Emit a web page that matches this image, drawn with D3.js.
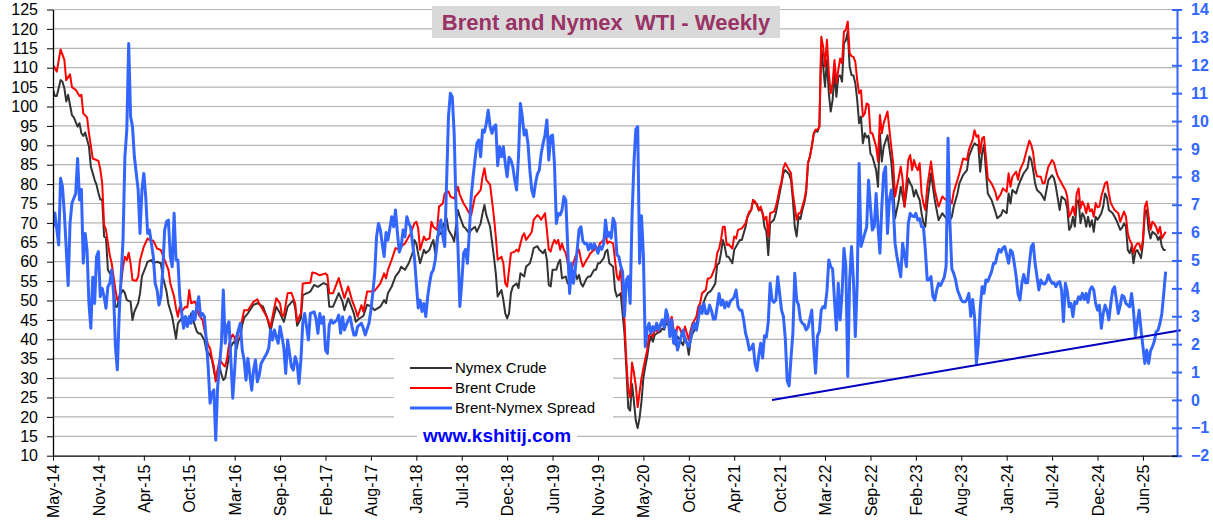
<!DOCTYPE html>
<html><head><meta charset="utf-8">
<script src="https://cdn.jsdelivr.net/npm/d3@7"></script>
<style>
body{margin:0;background:#fff;}
text{font-family:"Liberation Sans",Arial,sans-serif;}
</style></head>
<body><svg id="c" width="1213" height="525"></svg>
<script>
const startDate = "2014-05-23";
const totalWeeks = 594;
const tickStepWeeks = 24;
const tickLabels = ["May-14","Nov-14","Apr-15","Oct-15","Mar-16","Sep-16","Feb-17","Aug-17","Jan-18","Jul-18","Dec-18","Jun-19","Nov-19","May-20","Oct-20","Apr-21","Oct-21","Mar-22","Sep-22","Feb-23","Aug-23","Jan-24","Jul-24","Dec-24","Jun-25"];
const leftTicks = [10,15,20,25,30,35,40,45,50,55,60,65,70,75,80,85,90,95,100,105,110,115,120,125];
const rightTicks = [-2,-1,0,1,2,3,4,5,6,7,8,9,10,11,12,13,14];
const seriesNames = ["Nymex Crude","Brent Crude","Brent-Nymex Spread"];

// [week since startDate, value]
const nymex = [[0,104.3],[1,102.7],[2,102.7],[4,106.8],[5,106.4],[6,104.7],[7,101.3],[8,103],[10,97.8],[11,97.2],[13,94.8],[14,95.7],[15,93.1],[16,92.4],[17,93.3],[19,89.7],[20,84.5],[22,81.1],[23,79.8],[24,77.7],[25,76],[26,76],[27,66.5],[28,66.1],[29,57.9],[31,56.2],[32,53.2],[33,48.4],[34,48.4],[35,51],[37,52.7],[38,51.9],[39,50.1],[41,49.7],[42,45],[43,47.1],[45,49.3],[46,51.9],[47,56.2],[49,58.7],[50,60],[52,60.4],[53,59.6],[55,60],[57,59.6],[58,56.2],[60,52.3],[61,49.1],[63,45.8],[65,40.2],[66,44.1],[68,45.4],[69,43.7],[70,45.8],[72,44.1],[73,46.7],[74,45],[76,42],[77,41.5],[78,41.5],[80,39.8],[81,37.2],[83,35.9],[84,34.7],[85,32.1],[86,29.5],[87,32],[88,33],[89,31],[90,29.5],[91,30],[92,32.8],[93,35.5],[94,38],[95,39],[96,39.5],[97,37.5],[98,39.7],[99,40.5],[100,43.7],[101,45.5],[103,46.7],[106,48.9],[108,49.3],[111,48.4],[113,45.8],[115,42],[116,44.5],[118,48.4],[120,46.7],[122,44.5],[124,48.4],[127,50.1],[128,48],[129,43.5],[131,45.4],[132,51.4],[136,52.3],[138,54],[140,53.5],[143,54.5],[145,54],[146,48.4],[148,48.4],[151,51.9],[153,49.7],[154,47.5],[156,50.6],[159,46.7],[160,44.5],[162,45.4],[164,46],[166,48.9],[168,48.5],[170,47.5],[173,48.4],[175,50.1],[176,49.3],[177,51.9],[179,53.6],[181,56.2],[183,57.5],[184,58.7],[185,58.3],[186,57.9],[188,59.6],[190,62.2],[191,65.6],[192,64.7],[193,62],[194,59.6],[195,61.3],[196,63.1],[197,62.2],[199,63.1],[200,64.5],[201,65.6],[202,62.2],[203,66.5],[204,67],[205,67.3],[206,69],[208,71.2],[209,68.2],[211,66.5],[212,65.2],[214,73.3],[215,71.6],[217,69],[218,68.6],[220,67.3],[221,68.2],[223,69],[224,67.7],[226,69.9],[227,72.5],[228,74.6],[229,72],[230,70.5],[231,69],[233,61.3],[234,57],[235,51],[237,52.7],[238,50.1],[239,46.7],[240,45.4],[241,46.7],[242,51.9],[243,53.6],[245,54.4],[246,53.2],[247,57],[249,56.2],[250,58.7],[252,59.6],[253,61.3],[254,63.5],[256,64],[257,63.1],[259,62.2],[260,63.1],[261,60.5],[262,54],[263,53.6],[264,57.9],[266,57.9],[267,59.6],[268,60.5],[269,55.7],[271,56.2],[272,54.4],[273,55],[274,55.3],[276,57],[277,55.5],[278,56.6],[279,54.4],[280,53.6],[282,55.7],[283,56.2],[284,56.2],[286,57.9],[287,57.9],[288,59.6],[289,59.6],[291,60.9],[292,62.6],[293,63.1],[294,59.6],[296,58.7],[297,52.7],[298,51],[300,51.9],[301,46.7],[302,41.5],[303,32.5],[304,22.3],[305,21.6],[306,28.5],[307,24],[308,19],[309,17.1],[310,19.8],[311,24],[312,30],[313,33],[314,35.5],[315,39],[316,40.7],[317,39.4],[318,41.1],[319,41.5],[321,42],[322,42.8],[323,42.5],[324,44.1],[326,43.5],[327,44.1],[328,40.7],[329,38.5],[330,40.7],[331,40],[333,38.5],[334,40.7],[335,39],[336,36],[337,39.8],[338,41.5],[340,43.3],[341,46.7],[342,48.4],[343,48.4],[345,51],[346,51.9],[347,52.2],[348,52.7],[350,54.4],[351,59.2],[352,59.6],[353,62.2],[354,65.6],[355,63.9],[356,61.3],[357,61.3],[359,59.6],[360,63.1],[361,63.9],[363,65.6],[364,65.6],[365,67.3],[366,69],[367,71.6],[368,72.5],[369,73.3],[370,75.9],[371,75.1],[372,74.9],[373,73.2],[374,73.5],[375,72.5],[376,69],[377,67.8],[378,61.7],[379,69.9],[381,70.8],[382,72.5],[383,75.1],[384,77.6],[385,80.2],[386,82.8],[387,83.6],[389,82.5],[390,81.1],[391,75.9],[392,69],[393,66.5],[394,71.6],[395,71],[396,73.3],[397,75.1],[398,77.6],[399,85.4],[400,87.1],[401,89.7],[402,92.7],[403,94],[404,93.5],[405,94.8],[406,115.4],[407,110.3],[408,105.1],[409,112],[410,103.4],[411,98.7],[412,101.7],[413,108.6],[414,102.5],[415,107.7],[416,108],[417,106.4],[418,116.3],[419,117],[420,119.3],[421,110.3],[422,108.1],[423,108],[424,106],[425,101.7],[426,95.7],[427,97.4],[428,90.5],[429,93.1],[430,92],[431,92.5],[432,87.9],[433,87.1],[434,85.4],[435,83.6],[436,79.3],[437,93.1],[438,85.8],[439,89.6],[441,92.6],[443,85.8],[444,79.3],[445,71.2],[447,75.9],[448,79.3],[449,77],[450,74.2],[452,81.5],[453,80.2],[454,79.3],[455,76.8],[456,78.5],[457,77],[458,75.9],[459,72.5],[460,70],[461,69],[462,75],[464,82.8],[465,79.3],[466,75.9],[468,70.7],[470,72.5],[471,71.8],[472,71.2],[473,69.9],[475,71.6],[476,74.2],[478,77.6],[479,80.2],[481,82.4],[483,83.6],[484,87.1],[486,89.6],[487,90.5],[488,90.1],[489,90.1],[490,83.2],[491,87.9],[492,90.1],[493,83.6],[494,77.6],[496,75.9],[498,72.9],[499,71.2],[501,72],[502,73.3],[504,72.5],[505,77.6],[506,75],[507,78.5],[509,77.6],[510,79.3],[511,80.6],[513,82.8],[515,84.1],[516,87.1],[517,86.2],[518,83.6],[519,80.2],[520,78.5],[522,77.6],[523,76.8],[524,75.9],[526,81],[528,82.3],[529,81.5],[530,79.3],[532,73.3],[533,76.8],[535,75.9],[536,73.8],[537,68.2],[538,69],[539,71.6],[540,69],[541,75.1],[542,75.9],[543,69.9],[544,72.5],[545,71.6],[546,69],[547,71.6],[548,69],[549,70.7],[550,67.7],[551,71.6],[552,70.8],[553,71.6],[554,72.5],[555,74.2],[556,77.6],[557,76.5],[558,73.3],[560,72.5],[561,71.6],[562,70.7],[564,68.2],[565,68.8],[566,69.9],[567,69],[568,63],[569,62.2],[570,63.9],[571,59.6],[572,62.5],[573,63],[574,62],[575,60.9],[576,64.7],[577,72.5],[578,73.3],[579,68.2],[580,66],[581,67.7],[582,67.3],[583,66.9],[584,65.6],[585,66.5],[586,63.9],[587,63],[588,63]];

const brent = [[0,110.7],[2,109],[4,114.7],[6,112],[7,106.8],[9,108.3],[10,105],[12,104.3],[14,102.7],[15,103],[16,98.2],[18,97.2],[19,93.1],[21,86.6],[24,86],[25,83.8],[26,80.2],[27,69.5],[28,68.2],[30,61.7],[31,59.6],[33,52.7],[34,50.1],[35,50],[36,54.4],[37,58.7],[38,61.3],[39,60.4],[40,62.3],[41,59.6],[42,55.3],[44,55.1],[45,56.1],[46,60.4],[48,63.9],[50,66],[51,65.6],[53,65.4],[55,63.4],[57,63],[59,60.4],[61,57.9],[62,54.4],[64,51],[65,48],[66,45.8],[67,48.4],[68,47.1],[70,48.4],[71,48.2],[72,52.7],[73,49.3],[75,49.7],[76,48.4],[77,46.3],[79,45],[80,42.4],[82,38.5],[83,37.7],[84,35.1],[85,33],[86,29.1],[87,32.2],[88,34.7],[89,34.1],[90,33.4],[91,33],[92,35.1],[93,38.7],[94,40.4],[95,41.2],[96,40.4],[97,38.7],[98,41.9],[99,43.1],[100,45.1],[101,47.5],[103,47.5],[106,49.7],[108,50.3],[109,49.2],[111,47.5],[113,45.8],[115,43.2],[116,45.8],[118,50.6],[120,49.2],[121,46.2],[122,46],[124,51.9],[126,52],[128,49.2],[129,44.5],[131,46.7],[132,54.4],[136,54.6],[137,57.2],[139,57],[141,56.5],[144,57],[145,56.5],[146,51.9],[148,51.9],[150,54.5],[151,55.8],[153,52.3],[154,50.6],[156,53.6],[158,50.1],[160,47.5],[161,45.8],[163,48.8],[164,47.1],[166,52.3],[168,52.3],[170,52.5],[173,54.4],[175,57],[176,55.7],[177,57.9],[179,60.5],[181,63.5],[183,63.1],[184,63.9],[186,64.7],[187,65.6],[189,67.3],[190,68.6],[191,69.9],[192,70.3],[193,68.6],[194,63.1],[195,64.7],[196,66.5],[197,65.6],[199,66],[200,70.3],[201,69],[203,68.2],[204,74.2],[206,75],[207,77.6],[209,78.1],[210,76.8],[212,76.3],[214,79.3],[215,77.2],[217,75],[218,74.2],[220,72.5],[221,72],[223,76.8],[224,77.2],[226,78.5],[227,81.9],[228,84.1],[229,81.1],[231,79.8],[233,71.6],[234,66.5],[235,60.5],[237,61.3],[238,59.6],[239,54.4],[240,53.6],[241,57.9],[242,62.2],[244,62.6],[245,63.1],[246,62.6],[248,66.5],[249,67.3],[250,65.6],[252,66.9],[253,67.7],[254,70.8],[256,72],[257,71.6],[258,70.8],[260,72.5],[261,68.2],[262,63.1],[263,62.6],[264,64.5],[265,65.6],[266,64.7],[267,65.6],[268,63.1],[269,64.7],[270,63.1],[271,62.2],[272,59.6],[273,56.2],[274,57.9],[276,61.3],[277,62.2],[278,63.1],[279,60.5],[280,58.7],[282,60.5],[283,61.3],[284,62.2],[286,63.1],[287,63.9],[288,63.1],[289,64.7],[291,65.6],[292,66.9],[293,64.7],[294,65.2],[296,64.7],[297,60.5],[298,56.2],[299,55.3],[300,58],[301,51],[302,45],[303,34.5],[304,27],[305,25],[306,34],[307,31.5],[308,28],[309,22.5],[310,26.4],[311,30],[312,32.5],[313,35],[314,37.2],[315,41],[316,41.5],[317,40.7],[318,42.4],[320,42],[321,43.3],[322,44.1],[323,44.1],[324,45],[326,44.1],[327,45.8],[328,42.4],[329,40.7],[330,43.3],[331,43],[333,40.7],[334,43.3],[335,41.5],[336,39.8],[337,42.4],[338,44.1],[340,45.8],[341,48.4],[342,49.3],[343,51.9],[345,52.7],[346,55.7],[347,55.7],[348,56.2],[350,58.7],[351,62.2],[352,63.4],[353,65.6],[354,69],[355,69],[356,64.3],[357,64.5],[359,63.4],[360,66.5],[361,66],[362,68.2],[364,68.6],[366,69.9],[367,71.6],[368,72.9],[369,73.3],[370,75.9],[371,75.5],[372,74.6],[373,73.3],[374,74.2],[375,72.5],[376,70.8],[377,71.6],[378,66.5],[379,72.5],[381,72.9],[382,74.2],[383,76.3],[384,78.9],[385,80.6],[386,84.1],[387,85.4],[389,83.6],[390,82.8],[391,77.6],[392,74.2],[393,70.8],[394,72.5],[395,72.5],[396,74.2],[397,75.9],[398,78.5],[399,85.4],[400,87.1],[401,89.7],[402,93.1],[403,94],[404,94],[405,94.8],[406,118],[407,115.4],[408,110.3],[409,117.2],[410,108.6],[411,103.4],[412,106],[413,112],[414,106],[415,109.4],[416,112.4],[417,111.1],[418,119.3],[419,119.7],[420,121.9],[421,113.7],[422,113],[423,112.8],[424,111.5],[425,106.8],[426,103.4],[427,104.2],[428,97.4],[429,98.2],[430,100.8],[431,100.5],[432,93.1],[433,93.1],[434,91.4],[435,89.7],[436,85.8],[437,97.8],[438,93.1],[439,95.7],[441,98.7],[443,89.6],[444,85.4],[445,76.8],[447,81.9],[448,84.5],[449,81.1],[450,74.2],[452,86.2],[453,87.5],[454,83.6],[455,86.2],[456,84.5],[457,83.6],[458,85.4],[459,77.6],[460,75],[461,73.3],[462,79.3],[464,85.8],[465,81.9],[466,78.5],[468,74.2],[470,76.8],[471,76.3],[472,75.9],[473,76.8],[475,75],[476,78],[478,81.1],[479,82.8],[481,86.6],[483,86.2],[484,88.8],[486,91.4],[487,93.9],[488,92.2],[489,92.6],[490,87.9],[491,91.8],[492,92.2],[493,87.1],[494,81.5],[496,80.2],[498,78],[499,75.9],[501,77.6],[502,78.9],[504,78],[505,82.8],[506,79.3],[507,81.9],[509,83.2],[510,81.1],[511,83.6],[513,85.8],[515,89.5],[516,91.2],[517,90.1],[518,88],[519,84],[520,82],[522,81.9],[523,80.2],[524,80.2],[526,84.5],[528,86.2],[529,85.5],[530,83.6],[531,82],[533,80.2],[534,79.3],[535,78.5],[536,76.8],[537,71.6],[538,72.5],[539,74.2],[540,72],[541,77.6],[542,78.9],[543,73.8],[544,75.5],[545,74.5],[546,72.5],[547,75],[548,73],[549,73.5],[550,71.6],[551,75.1],[552,74],[553,74.2],[554,76.8],[556,80.2],[557,80.6],[558,77.6],[559,75.1],[560,74.2],[561,73.3],[563,72.5],[564,70.3],[565,71.6],[566,72.9],[567,71.6],[568,67.3],[569,65.6],[570,64.7],[571,62.2],[572,63.9],[573,64.7],[574,64.7],[575,63],[576,65.6],[577,74.2],[578,75.5],[579,71.6],[580,68.2],[581,70.3],[582,69.8],[583,68.9],[584,67.3],[585,69],[586,66],[587,66.9],[588,67.7]];

const spread = [[0,6.2],[1,6.7],[3,5.56],[4,7.95],[5,7.65],[6,6.7],[8,4.1],[9,6.33],[10,7.05],[12,7.4],[13,8.66],[14,7.17],[15,7.55],[16,4.9],[17,5.97],[18,5.37],[19,3.46],[20,2.57],[21,4.4],[22,3.46],[23,5.14],[24,5.32],[25,3.7],[26,4.0],[27,3.7],[28,3.29],[29,4.06],[30,4.18],[31,4.66],[32,3.82],[33,1.91],[34,1.08],[35,3.1],[37,5.73],[38,8.72],[39,9.68],[40,12.78],[41,10.16],[42,9.8],[43,8.72],[45,7.53],[46,5.97],[47,7.53],[48,8.12],[49,7.29],[50,5.97],[51,6.09],[53,5.14],[54,4.18],[55,3.94],[56,3.4],[57,3.7],[58,4.66],[59,6.09],[60,6.39],[61,6.45],[62,5.14],[63,4.78],[64,6.69],[65,5.02],[66,5.02],[67,3.7],[69,2.57],[70,2.99],[71,2.63],[72,2.99],[73,2.75],[74,3.17],[75,2.87],[76,3.35],[77,3.7],[78,2.99],[79,3.1],[80,2.99],[81,2.15],[82,1.19],[83,-0.12],[84,0.24],[85,0.36],[86,-1.44],[87,0.47],[89,2.03],[90,3.94],[91,2.03],[92,2.63],[93,2.8],[94,1.43],[95,0.06],[96,1.07],[97,2.27],[99,2.75],[100,1.79],[101,1.43],[102,0.71],[103,1.49],[105,0.35],[106,1.07],[107,1.43],[108,0.65],[109,0.89],[110,1.31],[111,1.43],[113,1.67],[114,1.85],[115,2.51],[116,2.15],[117,2.51],[119,2.03],[120,2.63],[121,2.27],[122,1.85],[123,0.95],[124,2.15],[126,1.19],[127,1.07],[128,1.55],[129,1.31],[130,0.59],[131,1.43],[132,2.75],[133,3.1],[135,2.15],[136,3.1],[138,3.16],[139,2.92],[140,2.39],[141,3.1],[142,2.75],[143,2.98],[144,1.79],[145,1.67],[146,2.69],[147,2.86],[148,2.75],[150,2.86],[151,3.04],[152,2.39],[153,2.98],[154,2.51],[156,2.86],[157,2.98],[158,2.63],[159,2.33],[160,2.33],[161,2.63],[163,2.75],[164,2.57],[165,2.33],[167,2.75],[168,3.22],[169,3.82],[170,4.54],[171,5.85],[172,6.33],[173,6.1],[174,5.6],[175,5.14],[176,6.0],[177,5.73],[178,6.15],[179,6.57],[180,6.21],[181,6.81],[182,6.0],[183,5.3],[184,5.5],[185,6.09],[186,5.85],[187,6.57],[188,6.33],[189,6.2],[190,5.62],[191,5.1],[192,4.2],[193,3.3],[194,3.58],[195,3.17],[196,3.46],[197,2.99],[198,3.7],[199,4.18],[200,4.54],[201,4.66],[202,5.02],[203,5.62],[204,6.21],[205,6.45],[206,5.85],[207,5.5],[208,7.8],[209,10.16],[210,11],[211,10.87],[212,9.56],[213,6.9],[214,5.5],[215,3.35],[216,4.18],[217,5.26],[218,5.4],[219,4.9],[220,5.97],[221,7.29],[222,8.0],[223,8.6],[224,9.2],[225,9.32],[226,8.72],[227,9.68],[228,9.6],[229,9.92],[230,10.39],[231,9.8],[232,9.56],[233,9.8],[234,9.86],[235,8.4],[236,9.08],[237,8.72],[238,9.08],[239,8.48],[240,8],[241,8.7],[242,8.6],[243,8.36],[244,7.89],[245,7.53],[246,8.72],[247,10.63],[248,10.16],[249,9.5],[250,9.68],[251,9.2],[252,8.24],[253,7.53],[254,7.29],[255,7.77],[256,8.1],[257,8.24],[258,8.84],[259,9.2],[260,9.5],[261,10.04],[262,8.6],[263,9.44],[264,9.5],[265,8.48],[266,6.33],[267,6.69],[268,6.63],[269,6.81],[270,7.29],[271,7.17],[272,5.5],[273,3.82],[274,4.9],[275,4.18],[276,4.66],[277,5.38],[278,6.09],[279,6.21],[280,5.7],[281,5.6],[282,5.62],[283,5.38],[284,5.6],[285,5.4],[286,5.6],[287,5.45],[288,5.26],[289,5.5],[290,5.4],[291,5.6],[292,6.45],[293,5.85],[294,6.0],[295,5.8],[296,6.51],[297,6.33],[298,5.2],[299,5.14],[300,4.8],[301,4.6],[302,3.0],[303,4.3],[304,4.42],[305,3.46],[306,6.57],[307,8.48],[308,9.7],[309,9.8],[310,4.9],[311,6.6],[312,5.2],[313,1.91],[314,2.51],[315,2.75],[316,2.39],[317,2.63],[318,2.5],[319,2.75],[320,2.5],[321,2.7],[322,2.87],[323,2.6],[324,3.23],[325,2.99],[326,2.27],[327,2.87],[328,2.03],[329,2.5],[330,1.79],[331,2.03],[332,2.3],[333,2.51],[334,2.15],[335,2.03],[336,1.91],[337,2.2],[338,2.6],[339,2.75],[340,2.5],[341,2.87],[342,3.35],[343,3.1],[344,3.46],[345,3.1],[346,3.1],[347,3.4],[348,3.2],[349,2.9],[350,2.9],[351,3.35],[352,3.82],[353,3.4],[354,3.58],[355,3.3],[356,3.5],[357,3.35],[358,3.55],[359,3.6],[360,3.7],[361,3.94],[362,3.35],[363,3.22],[364,3.22],[365,2.87],[366,2.39],[367,2.15],[368,1.79],[369,1.85],[370,2.0],[371,1.3],[372,1.05],[373,1.6],[374,2.03],[375,1.5],[376,2.3],[377,2.25],[378,2.8],[379,4.18],[380,3.58],[381,3.5],[382,3.58],[383,4.42],[384,3.82],[385,3.22],[386,2.99],[387,2.2],[388,0.7],[389,0.5],[390,1.49],[391,2.39],[392,4.54],[393,3.58],[394,3.4],[395,2.87],[396,2.75],[397,2.7],[398,2.51],[399,2.6],[400,2.9],[401,3.22],[402,1.91],[403,0.96],[404,2.3],[405,2.45],[406,3.22],[407,3.35],[408,3.3],[409,3.9],[410,5.02],[411,4.78],[412,4.7],[413,3.58],[414,2.51],[415,4.18],[416,2.87],[417,3.82],[418,5.43],[419,4.8],[420,0.84],[421,4.3],[422,5.5],[423,4.3],[424,2.27],[425,4.18],[426,8.48],[427,5.5],[428,5.73],[429,5.97],[430,6.2],[431,7.88],[432,6.93],[433,6.09],[434,6.21],[435,7.4],[436,6.2],[437,5.26],[438,6.93],[439,8.12],[440,8.36],[441,5.97],[442,7.17],[443,7.53],[444,7.0],[445,5.62],[446,5.14],[447,4.78],[448,4.42],[449,5.62],[450,5.2],[451,4.78],[452,6.33],[453,6.69],[454,6.6],[455,6.57],[456,6.69],[457,6.45],[458,6.5],[459,6.21],[460,6.2],[461,5.38],[462,4.3],[463,4.3],[464,4.42],[465,3.7],[466,3.58],[467,3.94],[468,4.18],[469,4.1],[470,4.24],[471,4.4],[472,4.8],[473,9.38],[474,6.33],[475,4.7],[476,4.54],[477,4.3],[478,3.94],[479,3.76],[480,3.58],[481,3.52],[482,3.52],[483,3.6],[484,3.82],[485,3.0],[486,3.6],[487,2.98],[488,1.31],[489,2.03],[490,3.3],[491,4.06],[492,3.82],[493,4.3],[494,4.25],[495,4.42],[496,4.6],[497,4.9],[498,4.9],[499,5.2],[500,5.4],[501,5.3],[502,5.45],[503,5.5],[504,5.2],[505,4.9],[506,5.38],[507,5.3],[508,4.9],[509,4.42],[510,3.8],[511,3.58],[512,4.18],[513,4.5],[514,4.2],[515,4.2],[516,4.9],[517,5.5],[518,5.6],[519,4.9],[520,4.42],[521,3.94],[522,4.3],[523,4.18],[524,4.15],[525,4.24],[526,4.48],[527,4.3],[528,4.18],[529,4.2],[530,4.06],[531,4.2],[532,4.24],[533,3.94],[534,2.81],[535,4.18],[536,3.9],[537,3.34],[538,3.46],[539,2.99],[540,3.52],[541,3.46],[542,3.7],[543,3.6],[544,3.82],[545,3.6],[546,3.82],[547,3.5],[548,3.94],[549,4.06],[550,3.94],[551,3.46],[552,3.22],[553,3.4],[554,2.57],[555,3.1],[556,3.4],[557,3.2],[558,2.87],[559,3.45],[560,3.94],[561,4.06],[562,3.58],[563,3.1],[564,3.4],[565,3.75],[566,3.7],[567,3.46],[568,3.4],[569,3.34],[570,3.82],[571,3.2],[572,2.3],[573,2.75],[574,3.22],[575,2.5],[576,1.91],[577,1.31],[578,1.79],[579,1.31],[580,1.75],[581,1.91],[582,2.1],[583,2.45],[584,2.5],[585,2.75],[586,3.1],[587,3.82],[588,4.6]];

const trendWeeks = [380, 596];
const trendValues = [0, 2.5];

const svg = d3.select("#c");
const W = 1213, H = 525;
const m = {left: 53, right: 1177, top: 9.5, bottom: 455.7};
const t0 = d3.timeParse("%Y-%m-%d")(startDate);
const wk = w => d3.timeDay.offset(t0, w * 7);

const x = d3.scaleTime().domain([t0, wk(totalWeeks)]).range([m.left, m.right]);
const yL = d3.scaleLinear().domain([10, 125]).range([m.bottom, m.top]);
const yR = d3.scaleLinear().domain([-2, 14]).range([m.bottom, m.top]);

// gridlines
svg.append("g").selectAll("line").data(leftTicks.filter(v => v > 10)).join("line")
  .attr("x1", m.left).attr("x2", m.right)
  .attr("y1", d => yL(d)).attr("y2", d => yL(d))
  .attr("stroke", "#b4b4b4").attr("stroke-width", 1.2);

// title
svg.append("rect").attr("x", 432).attr("y", 6).attr("width", 348).attr("height", 32).attr("fill", "#d9d9d9");
svg.append("text").attr("x", 606).attr("y", 30).attr("text-anchor", "middle")
  .style("white-space", "pre").attr("font-size", 22).attr("font-weight", "bold").attr("fill", "#993366")
  .text("Brent and Nymex  WTI - Weekly");

// legend and website boxes
svg.append("rect").attr("x", 394).attr("y", 350).attr("width", 219).attr("height", 71).attr("fill", "#fff");
svg.append("rect").attr("x", 417).attr("y", 424).attr("width", 160).attr("height", 24).attr("fill", "#fff");

const lineGen = (ys) => d3.line().x(d => x(wk(d[0]))).y(d => ys(d[1]));

svg.append("defs").append("clipPath").attr("id", "pc").append("rect")
  .attr("x", m.left).attr("y", 0).attr("width", W - m.left).attr("height", m.bottom);

const plot = svg.append("g").attr("clip-path", "url(#pc)");
plot.append("path").datum(nymex).attr("d", lineGen(yL)).attr("fill", "none")
  .attr("stroke", "#333333").attr("stroke-width", 2).attr("stroke-linejoin", "round");
plot.append("path").datum(brent).attr("d", lineGen(yL)).attr("fill", "none")
  .attr("stroke", "#ff0000").attr("stroke-width", 2).attr("stroke-linejoin", "round");
plot.append("path").datum(spread).attr("d", lineGen(yR)).attr("fill", "none")
  .attr("stroke", "#3366ff").attr("stroke-width", 3).attr("stroke-linejoin", "round");

const trend = trendWeeks.map((w, i) => [w, trendValues[i]]);
svg.append("path").datum(trend).attr("d", lineGen(yR)).attr("fill", "none")
  .attr("stroke", "#0000c0").attr("stroke-width", 2);

// axes
const axL = svg.append("g").attr("transform", `translate(${m.left},0)`)
  .call(d3.axisLeft(yL).tickValues(leftTicks).tickSize(6).tickPadding(9).tickSizeOuter(0));
axL.select(".domain").attr("stroke", "#000").attr("stroke-width", 1.3);
axL.selectAll(".tick line").attr("stroke", "#000");
axL.selectAll("text").attr("font-size", 16).attr("fill", "#000").style("font-family", "'Liberation Sans', Arial, sans-serif");

const axR = svg.append("g").attr("transform", `translate(${m.right},0)`)
  .call(d3.axisRight(yR).tickValues(rightTicks).tickSize(5).tickPadding(9).tickSizeOuter(0));
axR.select(".domain").attr("stroke", "#3366ff").attr("stroke-width", 2);
axR.selectAll(".tick line").attr("stroke", "#3366ff").attr("stroke-width", 2).attr("x1", -5);
axR.selectAll("text").attr("font-size", 16).attr("font-weight", "bold").attr("fill", "#3366ff").style("font-family", "'Liberation Sans', Arial, sans-serif");

const tickDates = tickLabels.map((_, k) => wk(k * tickStepWeeks));
const axB = svg.append("g").attr("transform", `translate(0,${m.bottom})`)
  .call(d3.axisBottom(x).tickValues(tickDates).tickFormat((d, i) => tickLabels[i]).tickSize(5).tickSizeOuter(0));
axB.select(".domain").attr("stroke", "#000").attr("stroke-width", 1.3);
axB.selectAll(".tick line").attr("stroke", "#000");
axB.selectAll("text").attr("font-size", 16).attr("fill", "#000").style("font-family", "'Liberation Sans', Arial, sans-serif")
  .attr("text-anchor", "end").attr("transform", "rotate(-90)").attr("x", -9).attr("y", 0).attr("dy", "0.35em");

// legend
const lg = svg.append("g");
const lgColors = ["#333333", "#ff0000", "#3366ff"];
const lgWidths = [2, 2, 3];
seriesNames.forEach((n, i) => {
  const yy = 368 + i * 20;
  lg.append("line").attr("x1", 410).attr("x2", 452).attr("y1", yy).attr("y2", yy)
    .attr("stroke", lgColors[i]).attr("stroke-width", lgWidths[i]);
  lg.append("text").attr("x", 455).attr("y", yy + 5).attr("font-size", 15).attr("fill", "#000").text(n);
});

svg.append("text").attr("x", 497).attr("y", 442).attr("text-anchor", "middle")
  .attr("font-size", 19).attr("font-weight", "bold").attr("fill", "#0000ff").text("www.kshitij.com");
</script>
</body></html>
